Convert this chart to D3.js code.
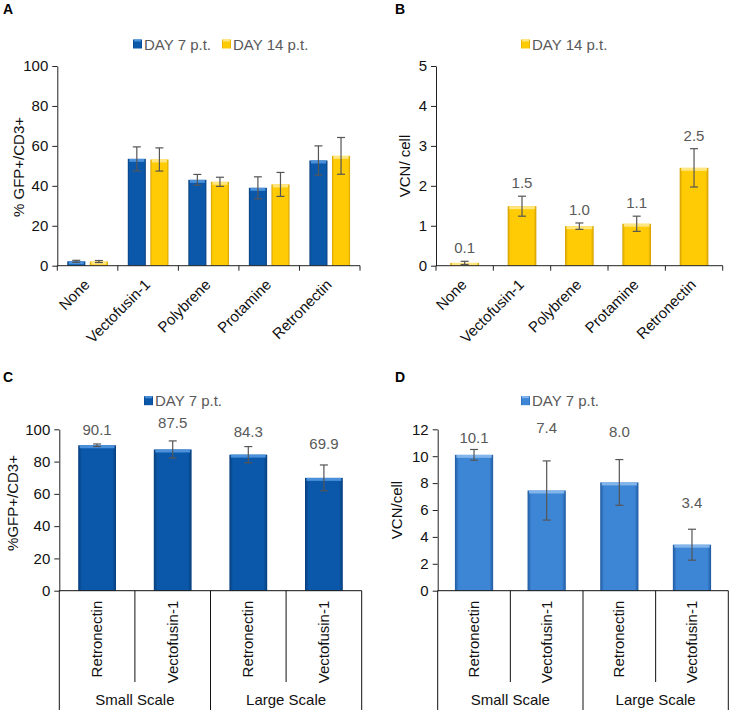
<!DOCTYPE html>
<html><head><meta charset="utf-8">
<script src="https://cdn.jsdelivr.net/npm/d3@7"></script>
<style>body{margin:0;background:#fff} svg{display:block;font-family:"Liberation Sans",Arial,sans-serif}</style>
</head><body><svg id="c" width="729" height="710"></svg>
<script>
// ---------- data ----------
const catsAB = ["None","Vectofusin-1","Polybrene","Protamine","Retronectin"];
const seriesA = ["DAY 7 p.t.","DAY 14 p.t."];
const aDay7 = [2.2,53.5,43.0,39.0,52.7];
const aDay7Err = [0.5,6.0,2.7,5.5,7.3];
const aDay14 = [2.1,53.2,42.0,40.7,55.0];
const aDay14Err = [0.5,5.8,2.3,6.0,9.2];
const seriesB = ["DAY 14 p.t."];
const bDay14 = [0.07,1.49,0.99,1.05,2.45];
const bErr = [0.04,0.25,0.08,0.19,0.48];
const bLabels = ["0.1","1.5","1.0","1.1","2.5"];
const catsCD = ["Retronectin","Vectofusin-1","Retronectin","Vectofusin-1"];
const groupsCD = ["Small Scale","Large Scale"];
const seriesCD = ["DAY 7 p.t."];
const cVals = [90.1,87.5,84.3,69.9];
const cErr = [0.8,5.3,5.0,8.0];
const cLabels = ["90.1","87.5","84.3","69.9"];
const dVals = [10.1,7.45,8.05,3.42];
const dErr = [0.4,2.2,1.7,1.15];
const dLabels = ["10.1","7.4","8.0","3.4"];
const ticksA = [0,20,40,60,80,100];
const ticksB = [0,1,2,3,4,5];
const ticksC = [0,20,40,60,80,100];
const ticksD = [0,2,4,6,8,10,12];

// ---------- layout (pixels) ----------
const cLift = [9,13,10,16];
const dLift = [6,28,23,21];

const svg = d3.select("#c");
const defs = svg.append("defs");
const styles = {
  blue:  {edge:"#073E7C", main:"#0B58AA", top:"#4A90DA"},
  yellow:{edge:"#D29E00", main:"#FFCB05", top:"#FFE680"},
  lblue: {edge:"#1F5AA0", main:"#3D86D6", top:"#82B5EB"}
};
Object.entries(styles).forEach(([k,s])=>{
  const g = defs.append("linearGradient").attr("id",k+"-g").attr("x1",0).attr("x2",1).attr("y1",0).attr("y2",0);
  [[0,s.edge],[0.1,s.main],[0.9,s.main],[1,s.edge]].forEach(([o,c])=>g.append("stop").attr("offset",o).attr("stop-color",c));
});

function bar(g,x,w,yb,yt,st){
  const h = Math.max(0,yb-yt);
  g.append("rect").attr("x",x).attr("y",yt).attr("width",w).attr("height",h).attr("fill",`url(#${st}-g)`);
  g.append("rect").attr("x",x+1.5).attr("y",yt).attr("width",w-3).attr("height",Math.min(3,h)).attr("fill",styles[st].top);
}
function err(g,cx,y,v,e){
  const c = "#555";
  g.append("line").attr("x1",cx).attr("x2",cx).attr("y1",y(v+e)).attr("y2",y(v-e)).attr("stroke",c).attr("stroke-width",1.2);
  [v+e,v-e].forEach(t=>g.append("line").attr("x1",cx-4).attr("x2",cx+4).attr("y1",y(t)).attr("y2",y(t)).attr("stroke",c).attr("stroke-width",1.2));
}
function yAxis(x0,y,ticks){
  const ax = svg.append("g").attr("transform",`translate(${x0},0)`)
    .call(d3.axisLeft(y).tickValues(ticks).tickSize(5).tickSizeOuter(0).tickPadding(4).tickFormat(d3.format("d")));
  ax.selectAll("text").attr("font-size",15).attr("fill","#111").attr("font-family","Liberation Sans, Arial, sans-serif");
  ax.selectAll("line,path").attr("stroke","#222");
}
function legend(items,y){
  items.forEach(it=>{
    svg.append("rect").attr("x",it.x).attr("y",y-4.5).attr("width",9).attr("height",9).attr("fill",`url(#${it.st}-g)`);
    svg.append("rect").attr("x",it.x+1).attr("y",y-4.5).attr("width",7).attr("height",2).attr("fill",styles[it.st].top);
    svg.append("text").attr("x",it.x+11).attr("y",y+5.5).attr("font-size",15).attr("fill","#595959").text(it.t);
  });
}
function ytitle(t,x,y){
  svg.append("text").attr("transform",`translate(${x},${y}) rotate(-90)`).attr("text-anchor","middle").attr("font-size",15).attr("fill","#111").text(t);
}
function letter(t,x,y){
  svg.append("text").attr("x",x).attr("y",y).attr("font-size",14).attr("font-weight","bold").attr("fill","#000").text(t);
}

// ---------- Panel A ----------
{
  const x = d3.scaleBand().domain(catsAB).range([57.3,360]);
  const inner = d3.scaleBand().domain([0,1]).range([0,x.bandwidth()]).paddingInner(0.2).paddingOuter(0.44);
  const y = d3.scaleLinear().domain([0,100]).range([265.7,66]);
  const g = svg.append("g");
  const sets = [[aDay7,aDay7Err,"blue"],[aDay14,aDay14Err,"yellow"]];
  catsAB.forEach((c,i)=>{
    sets.forEach(([v,e,st],s)=>{
      const bx = x(c)+inner(s);
      bar(g,bx,inner.bandwidth(),y(0),y(v[i]),st);
      err(g,bx+inner.bandwidth()/2,y,v[i],e[i]);
    });
  });
  yAxis(57.3,y,ticksA);
  svg.append("line").attr("x1",57.3).attr("x2",360).attr("y1",y(0)).attr("y2",y(0)).attr("stroke","#222");
  catsAB.concat([null]).forEach((c,i)=>{
    const xx = c===null ? x.range()[1] : x(c);
    svg.append("line").attr("x1",xx).attr("x2",xx).attr("y1",y(0)).attr("y2",y(0)+5).attr("stroke","#222");
  });
  catsAB.forEach(c=>{
    svg.append("text").attr("transform",`translate(${x(c)+x.bandwidth()/2+3},${y(0)+20}) rotate(-45)`)
      .attr("text-anchor","end").attr("font-size",15).attr("fill","#111").text(c);
  });
  legend([{x:133,st:"blue",t:seriesA[0]},{x:222,st:"yellow",t:seriesA[1]}],44);
  ytitle("% GFP+/CD3+",23.5,167);
  letter("A",3,14);
}

// ---------- Panel B ----------
{
  const x = d3.scaleBand().domain(catsAB).range([436,722.7]);
  const inner = d3.scaleBand().domain([0]).range([0,x.bandwidth()]).paddingOuter(0.5);
  const y = d3.scaleLinear().domain([0,5]).range([265.7,66]);
  const g = svg.append("g");
  catsAB.forEach((c,i)=>{
    const bx = x(c)+inner(0);
    bar(g,bx,inner.bandwidth(),y(0),y(bDay14[i]),"yellow");
    err(g,bx+inner.bandwidth()/2,y,bDay14[i],bErr[i]);
    svg.append("text").attr("x",x(c)+x.bandwidth()/2).attr("y",y(bDay14[i]+bErr[i])-8)
      .attr("text-anchor","middle").attr("font-size",15).attr("fill","#595959").text(bLabels[i]);
  });
  yAxis(436,y,ticksB);
  svg.append("line").attr("x1",436).attr("x2",722.7).attr("y1",y(0)).attr("y2",y(0)).attr("stroke","#222");
  catsAB.concat([null]).forEach(c=>{
    const xx = c===null ? x.range()[1] : x(c);
    svg.append("line").attr("x1",xx).attr("x2",xx).attr("y1",y(0)).attr("y2",y(0)+5).attr("stroke","#222");
  });
  catsAB.forEach(c=>{
    svg.append("text").attr("transform",`translate(${x(c)+x.bandwidth()/2+3},${y(0)+20}) rotate(-45)`)
      .attr("text-anchor","end").attr("font-size",15).attr("fill","#111").text(c);
  });
  legend([{x:521,st:"yellow",t:seriesB[0]}],44);
  ytitle("VCN/ cell",409.5,166);
  letter("B",395,14);
}

// ---------- Panels C & D ----------
function lowerPanel(x0,x1,domain,ticks,vals,errs,labels,lifts,st,title,tx,ty,ltr,legX,pad){
  const x = d3.scaleBand().domain(d3.range(catsCD.length)).range([x0,x1]);
  const inner = d3.scaleBand().domain([0]).range([0,x.bandwidth()]).paddingOuter(pad);
  const y = d3.scaleLinear().domain(domain).range([590.7,429.3]);
  const g = svg.append("g");
  vals.forEach((v,i)=>{
    const bx = x(i)+inner(0);
    bar(g,bx,inner.bandwidth(),y(0),y(v),st);
    err(g,bx+inner.bandwidth()/2,y,v,errs[i]);
    svg.append("text").attr("x",x(i)+x.bandwidth()/2).attr("y",y(v+errs[i])-lifts[i])
      .attr("text-anchor","middle").attr("font-size",15).attr("fill","#595959").text(labels[i]);
    svg.append("text").attr("transform",`translate(${x(i)+x.bandwidth()/2+5},${y(0)+10}) rotate(-90)`)
      .attr("text-anchor","end").attr("font-size",15).attr("fill","#111").text(catsCD[i]);
  });
  yAxis(x0,y,ticks);
  svg.append("line").attr("x1",x0).attr("x2",x1).attr("y1",y(0)).attr("y2",y(0)).attr("stroke","#111");
  d3.range(catsCD.length+1).forEach(i=>{
    const xx = i===catsCD.length ? x1 : x(i);
    const full = i%2===0;
    svg.append("line").attr("x1",xx).attr("x2",xx).attr("y1",y(0)).attr("y2",full?710:682).attr("stroke","#111");
  });
  groupsCD.forEach((gname,k)=>{
    const cx = (x(2*k) + (2*k+2===catsCD.length ? x1 : x(2*k+2)))/2;
    svg.append("text").attr("x",cx).attr("y",705).attr("text-anchor","middle").attr("font-size",15).attr("fill","#111").text(gname);
  });
  legend([{x:legX,st:st,t:seriesCD[0]}],400.7);
  ytitle(title,tx,ty);
  letter(ltr,x0<200?3:395,381.5);
}
lowerPanel(59.3,361.7,[0,100],ticksC,cVals,cErr,cLabels,cLift,"blue","%GFP+/CD3+",17.5,503,"C",144,0.5);
lowerPanel(437.7,728.3,[0,12],ticksD,dVals,dErr,dLabels,dLift,"lblue","VCN/cell",402,510,"D",521,0.45);
</script></body></html>
